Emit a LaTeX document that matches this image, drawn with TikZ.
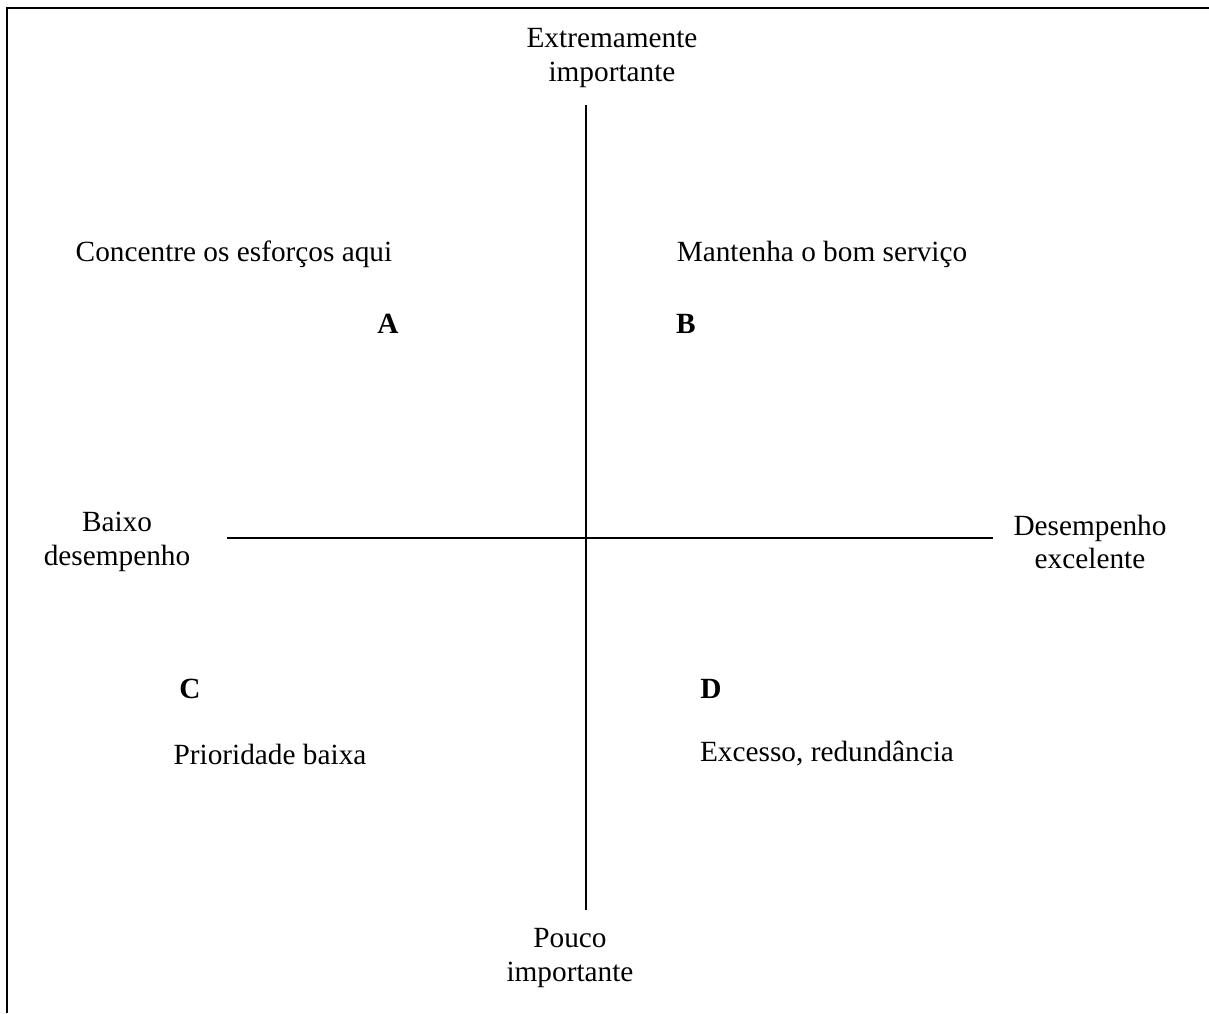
\documentclass[tikz,border=0pt]{standalone}
\usepackage{fontspec}
\setmainfont{Liberation Serif}
\usepackage{tikz}
\usetikzlibrary{positioning,calc}

\begin{document}
\begin{tikzpicture}[x=0.43pt, y=-0.43pt,
    label/.style={font=\fontsize{12.6}{14.3}\selectfont, align=center, inner sep=0pt},
    letter/.style={font=\fontsize{12.6}{14.3}\selectfont\bfseries, inner sep=0pt},
    axis/.style={line width=0.9pt}]
    \useasboundingbox (0,0) rectangle (1209,1013);

      % Frame
      \draw[line width=1.2pt] (7,1013) -- (7,8) -- (1209,8);

      % Axes
      \coordinate (top) at (586,105);
      \coordinate (bottom) at (586,910);
      \coordinate (left) at (227,538);
      \coordinate (right) at (993,538);
      \draw[axis] (top) -- (bottom);
      \draw[axis] (left) -- (right);

      % Axis labels
      \node[label] (high) at (612,58) {Extremamente\\importante};
      \node[label] (low) at (570,958) {Pouco\\importante};
      \node[label] (poor) at (117,542) {Baixo\\desempenho};
      \node[label] (good) at (1090,542) {Desempenho\\excelente};

      % Quadrants
      \node[label] (focus) at (234,254) {Concentre os esforços aqui};
      \node[label] (keep) at (822,254) {Mantenha o bom serviço};
      \node[label] (lowprio) at (270,754) {Prioridade baixa};
      \node[label] (excess) at (827,754) {Excesso, redundância};

      \node[letter] (A) at (388,324) {A};
      \node[letter] (B) at (686,324) {B};
      \node[letter] (C) at (190,689) {C};
      \node[letter] (D) at (711,689) {D};
\end{tikzpicture}
\end{document}
